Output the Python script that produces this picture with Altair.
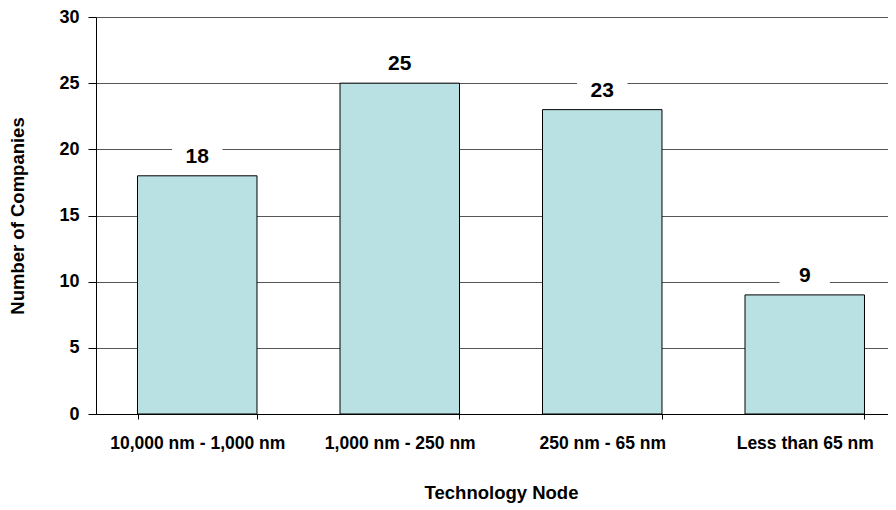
import altair as alt
import pandas as pd

categories = ["10,000 nm - 1,000 nm", "1,000 nm - 250 nm", "250 nm - 65 nm", "Less than 65 nm"]
companies = [18, 25, 23, 9]

df = pd.DataFrame({"node": categories, "count": companies})

FONT = "Liberation Sans"

x = alt.X("node:N", sort=categories, title="Technology Node",
          scale=alt.Scale(paddingInner=0.41, paddingOuter=0.205),
          axis=alt.Axis(labelAngle=0, tickBand="extent", labelFontSize=17.5, labelFont=FONT,
                        labelFontWeight="bold", labelColor="black", labelPadding=15,
                        tickSize=5, tickColor="black", domainColor="black",
                        titleFont=FONT, titleFontSize=18.5, titleFontWeight="bold",
                        titleColor="black", titlePadding=32, grid=False))
y = alt.Y("count:Q", title="Number of Companies",
          scale=alt.Scale(domain=[0, 30], nice=False),
          axis=alt.Axis(values=[0, 5, 10, 15, 20, 25, 30], labelFontSize=18, labelFont=FONT,
                        labelFontWeight="bold", labelColor="black", labelPadding=9,
                        tickSize=8, tickColor="black", domainColor="black",
                        gridColor="#555555", gridOpacity=1,
                        titleFont=FONT, titleFontSize=18.5, titleFontWeight="bold",
                        titleColor="black", titlePadding=31))

base = alt.Chart(df)

bars = base.mark_bar(color="#B9E0E3", stroke="black", strokeWidth=1).encode(x=x, y=y)

xl = alt.X("node:N", sort=categories)
mask = base.mark_point(shape="M -1.2 -0.55 L 1.2 -0.55 L 1.2 0.55 L -1.2 0.55 Z",
                       size=1764, filled=True, color="white", opacity=1,
                       strokeWidth=0, yOffset=-19).encode(x=xl, y="count:Q")
labels = base.mark_text(font=FONT, fontSize=21, fontWeight="bold", baseline="middle", dy=-19,
                        color="black").encode(x=xl, y="count:Q", text="count:Q")

chart = (bars + mask + labels).properties(
    width=810, height=397,
    autosize=alt.AutoSizeParams(type="none"),
    padding={"left": 88, "top": 9, "right": -18, "bottom": 94},
).configure_view(stroke=None)

chart.save("out.html", embed_options={"renderer": "svg", "actions": False})
